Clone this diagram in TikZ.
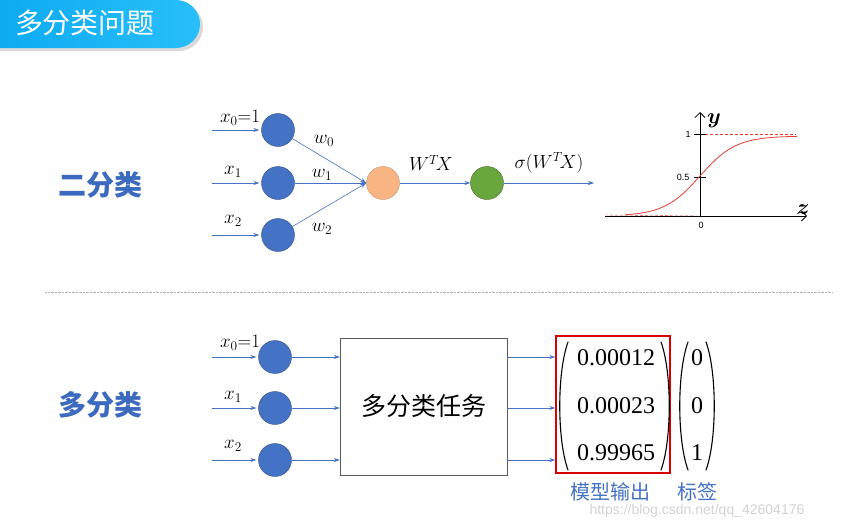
\RequirePackage{fix-cm}
\documentclass[tikz,border=0pt]{standalone}
\usepackage{amsmath}
\usepackage{fontspec}
\setmainfont{Liberation Serif}
\newfontfamily\cjk{Noto Sans CJK SC}
\newfontfamily\wmfont{Liberation Sans}
\usetikzlibrary{arrows.meta,positioning}

\definecolor{netblue}{RGB}{68,114,196}
\definecolor{titleblue}{RGB}{59,106,190}
\definecolor{bannerleft}{RGB}{10,168,240}
\definecolor{bannerright}{RGB}{40,190,250}
\definecolor{nodeorange}{RGB}{248,180,130}
\definecolor{nodegreen}{RGB}{106,166,62}
\definecolor{curvered}{RGB}{230,62,50}

\begin{document}
\begin{tikzpicture}[x=1pt,y=-1pt,>=Stealth,
    neuron/.style={circle,minimum size=33pt,inner sep=0pt,fill=netblue,draw=netblue!70!black,thin},
    link/.style={-{Stealth[length=6pt,width=4pt]},netblue,semithick},
    lbl/.style={font=\fontsize{19}{21}\selectfont,inner sep=1pt},
    num/.style={font=\fontsize{24}{26}\selectfont,inner sep=0pt},
    paren/.style={line width=1.1pt,line cap=round},
    sect/.style={font=\fontsize{28}{30}\selectfont\cjk\bfseries,text=titleblue}]
  \useasboundingbox (0,0) rectangle (841,525);

  % banner
  \fill[gray!30,rounded corners=24pt] (-30,3) rectangle (203,51);
  \shade[left color=bannerleft,right color=bannerright,rounded corners=24pt]
    (-30,0) rectangle (200,48);
  \node[font=\fontsize{28}{30}\selectfont\cjk,text=white] (title) at (85,23) {多分类问题};

  \node[sect] (binary) at (100,185) {二分类};
  \node[sect] (multi) at (100,405) {多分类};
  \draw[gray!60,densely dotted,thin] (45,292) -- (833,292);

  % binary network
  \foreach \i/\y in {0/130,1/183,2/235} {
    \coordinate (ta\i) at (212,\y);
    \node[neuron] (tx\i) at (278,\y) {};
    \draw[link,shorten >=2pt] (ta\i) -- (tx\i);
  }
  \node[lbl] at (240,118) {$x_0{=}1$};
  \node[lbl] at (233,172) {$x_1$};
  \node[lbl] at (233,221) {$x_2$};
  \node[circle,minimum size=33pt,inner sep=0pt,fill=nodeorange,draw=nodeorange!80!black,thin]
    (sum) at (383,183) {};
  \foreach \i in {0,1,2} {
    \draw[link] (tx\i) -- (sum.west);
  }
  \node[lbl] at (324,141) {$w_0$};
  \node[lbl] at (322,175) {$w_1$};
  \node[lbl] at (322,229) {$w_2$};
  \node[circle,minimum size=33pt,inner sep=0pt,fill=nodegreen,draw=nodegreen!60!black,thin]
    (act) at (487,183) {};
  \coordinate (tend) at (594,183);
  \draw[link] (sum) -- (act);
  \draw[link] (act) -- (tend);
  \node[lbl] at (431,163) {$W^T\!X$};
  \node[lbl] at (549,163) {$\sigma(W^T\!X)$};

  % sigmoid
  \coordinate (o) at (700,216);
  \draw[thick,-{Straight Barb[length=5pt]}] (605,216) -- (807,216);
  \draw[thick,-{Straight Barb[length=5pt]}] (o) -- (700,112);
  \draw[curvered,densely dashed] (605,215) -- (o);
  \draw[curvered,densely dashed] (700,134) -- (796,134);
  \draw[thick] (694,134) -- (706,134);
  \draw[thick] (694,177) -- (706,177);
  \draw[curvered,thick,domain=625:797,samples=60,smooth]
    plot (\x,{216-80/(1+exp(-(\x-700)/18))});
  \node[font=\fontsize{9}{10}\selectfont\wmfont] at (688,134) {1};
  \node[font=\fontsize{9}{10}\selectfont\wmfont] at (683,177) {0.5};
  \node[font=\fontsize{9}{10}\selectfont\wmfont] at (701,225) {0};
  \node[font=\fontsize{22}{24}\selectfont] at (714,121) {$\boldsymbol{y}$};
  \node[font=\fontsize{22}{24}\selectfont] at (803,210) {$\boldsymbol{z}$};

  % multi-class network
  \node[draw=gray!70!black,minimum width=167pt,minimum height=137pt,
    font=\fontsize{25}{27}\selectfont\cjk] (task) at (423.5,406.5) {多分类任务};
  \node[draw=red!85!black,line width=1.4pt,minimum width=114pt,minimum height=137pt]
    (out) at (613,404.5) {};
  \foreach \i/\y/\v/\l in {0/358/0.00012/0,1/406/0.00023/0,2/453/0.99965/1} {
    \node[num] (r\i) at (616,\y) {\v};
    \node[num] (l\i) at (697,\y) {\l};
  }
  % parentheses
  \draw[paren] (568,342) .. controls (557,372) and (557,440) .. (568,470);
  \draw[paren] (661,342) .. controls (672,372) and (672,440) .. (661,470);
  \draw[paren] (688,342) .. controls (677,372) and (677,440) .. (688,470);
  \draw[paren] (706,342) .. controls (717,372) and (717,440) .. (706,470);
  \foreach \i/\y in {0/357,1/408,2/460} {
    \coordinate (ba\i) at (212,\y);
    \node[neuron] (bx\i) at (275,\y) {};
    \draw[link,shorten >=2pt] (ba\i) -- (bx\i);
    \draw[link] (bx\i) -- (task.west |- bx\i);
    \draw[link] (task.east |- bx\i) -- (out.west |- bx\i);
  }
  \node[lbl] at (240,343) {$x_0{=}1$};
  \node[lbl] at (233,397) {$x_1$};
  \node[lbl] at (233,446) {$x_2$};
  \node[font=\fontsize{20}{22}\selectfont\cjk,text=netblue] (outname) at (610,492) {模型输出};
  \node[font=\fontsize{20}{22}\selectfont\cjk,text=netblue] (labelname) at (697,492) {标签};
  \node[font=\fontsize{14}{16}\selectfont\wmfont,text=gray!35,anchor=west] (mark) at (586,511)
    {https://blog.csdn.net/qq\_42604176};
\end{tikzpicture}
\end{document}
